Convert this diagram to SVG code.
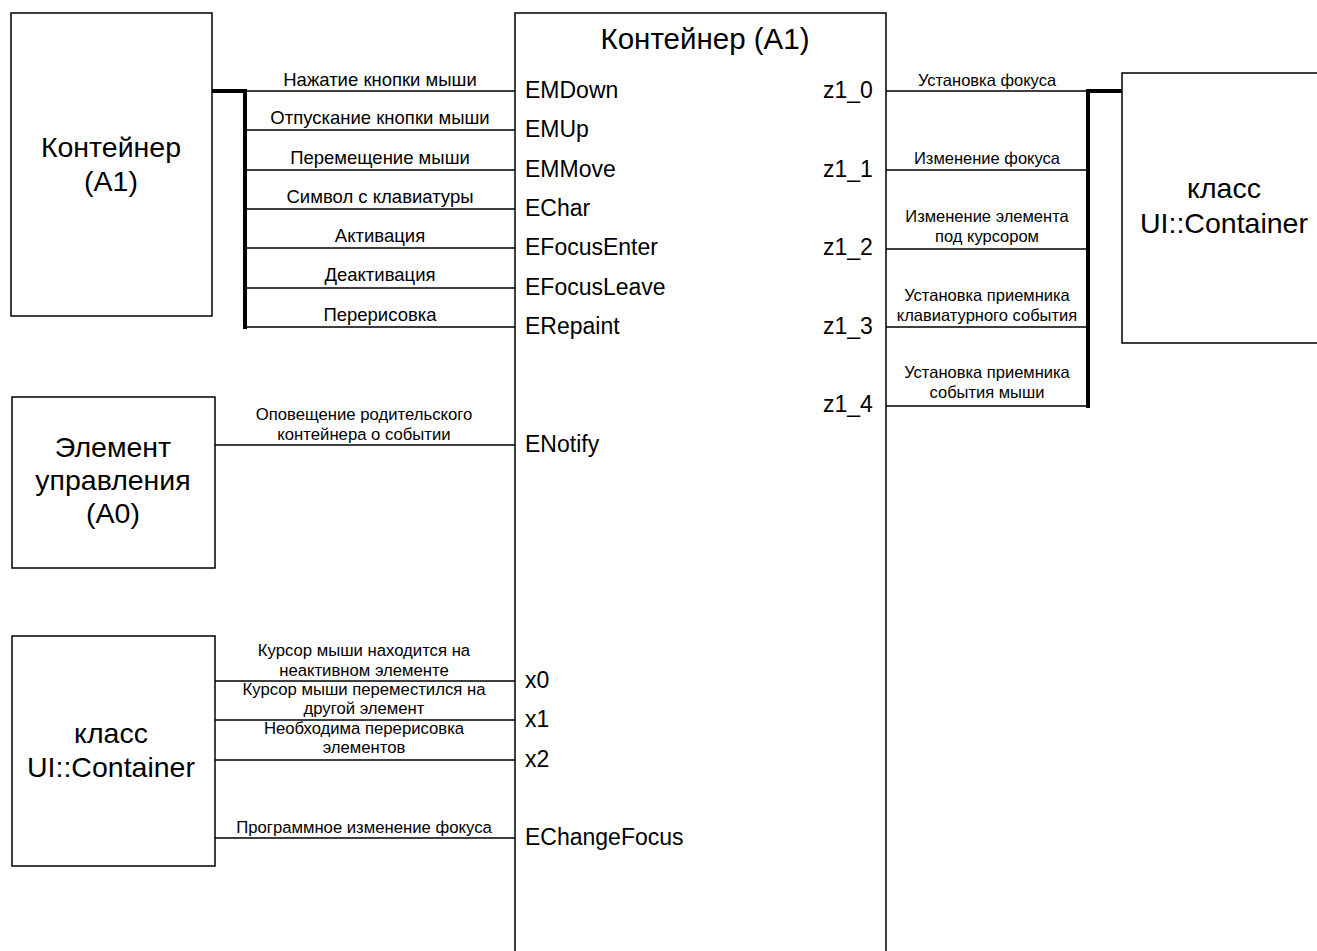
<svg xmlns="http://www.w3.org/2000/svg" width="1317" height="951" viewBox="0 0 1317 951">
<style>
text{font-family:"Liberation Sans",Arial,sans-serif;fill:#000}
.box{fill:#fff;stroke:#000;stroke-width:1.5}
.ln{fill:none;stroke:#000;stroke-width:1.5}
.bus{fill:none;stroke:#000;stroke-width:4;stroke-linecap:square}
.node{font-size:28.5px;text-anchor:middle}
.title{font-size:29.5px;text-anchor:middle}
.port{font-size:23px}
.lblL{font-size:18.5px;text-anchor:middle}
.lblR{font-size:16.5px;text-anchor:middle}
.lblB{font-size:16.7px;text-anchor:middle}
</style>
<rect width="1317" height="951" fill="#fff"/>

<g id="connectors">
  <path class="ln" d="M245,91H515M245,130H515M245,170H515M245,209H515M245,248H515M245,288H515M245,327H515"/>
  <path class="bus" d="M212,91H245V327"/>
  <path class="ln" d="M215,445H515"/>
  <path class="ln" d="M215,681H515M215,720H515M215,760H515M215,838H515"/>
  <path class="ln" d="M886,91H1088M886,170H1088M886,249H1088M886,327H1088M886,406H1088"/>
  <path class="bus" d="M1088,406V91H1122"/>
  <g id="connector-labels">
    <text class="lblL" x="380" y="86">Нажатие кнопки мыши</text>
    <text class="lblL" x="380" y="124">Отпускание кнопки мыши</text>
    <text class="lblL" x="380" y="164">Перемещение мыши</text>
    <text class="lblL" x="380" y="203">Символ с клавиатуры</text>
    <text class="lblL" x="380" y="242">Активация</text>
    <text class="lblL" x="380" y="281">Деактивация</text>
    <text class="lblL" x="380" y="321">Перерисовка</text>
    <text class="lblB" x="364" y="420">Оповещение родительского</text>
    <text class="lblB" x="364" y="440">контейнера о событии</text>
    <text class="lblB" x="364" y="656">Курсор мыши находится на</text>
    <text class="lblB" x="364" y="676">неактивном элементе</text>
    <text class="lblB" x="364" y="695">Курсор мыши переместился на</text>
    <text class="lblB" x="364" y="714">другой элемент</text>
    <text class="lblB" x="364" y="734">Необходима перерисовка</text>
    <text class="lblB" x="364" y="753">элементов</text>
    <text class="lblB" x="364" y="833">Программное изменение фокуса</text>
    <text class="lblR" x="987" y="86">Установка фокуса</text>
    <text class="lblR" x="987" y="164">Изменение фокуса</text>
    <text class="lblR" x="987" y="222">Изменение элемента</text>
    <text class="lblR" x="987" y="242">под курсором</text>
    <text class="lblR" x="987" y="301">Установка приемника</text>
    <text class="lblR" x="987" y="321">клавиатурного события</text>
    <text class="lblR" x="987" y="378">Установка приемника</text>
    <text class="lblR" x="987" y="398">события мыши</text>
  </g>
</g>

<g id="node-container-left">
  <rect class="box" x="11" y="13" width="201" height="303"/>
  <text class="node" x="111" y="157">Контейнер</text>
  <text class="node" x="111" y="191">(A1)</text>
</g>

<g id="node-control">
  <rect class="box" x="12" y="397" width="203" height="171"/>
  <text class="node" x="113" y="457">Элемент</text>
  <text class="node" x="113" y="490">управления</text>
  <text class="node" x="113" y="523">(A0)</text>
</g>

<g id="node-ui-left">
  <rect class="box" x="12" y="636" width="203" height="230"/>
  <text class="node" x="111" y="743">класс</text>
  <text class="node" x="111" y="777">UI::Container</text>
</g>

<g id="node-main">
  <path class="box" d="M515,960V13H886V960"/>
  <text class="title" x="705" y="49">Контейнер (A1)</text>
  <text class="port" x="525" y="98">EMDown</text>
  <text class="port" x="525" y="137">EMUp</text>
  <text class="port" x="525" y="177">EMMove</text>
  <text class="port" x="525" y="216">EChar</text>
  <text class="port" x="525" y="255">EFocusEnter</text>
  <text class="port" x="525" y="295">EFocusLeave</text>
  <text class="port" x="525" y="334">ERepaint</text>
  <text class="port" x="525" y="452">ENotify</text>
  <text class="port" x="525" y="688">x0</text>
  <text class="port" x="525" y="727">x1</text>
  <text class="port" x="525" y="767">x2</text>
  <text class="port" x="525" y="845">EChangeFocus</text>
  <text class="port" x="823" y="98">z1_0</text>
  <text class="port" x="823" y="177">z1_1</text>
  <text class="port" x="823" y="255">z1_2</text>
  <text class="port" x="823" y="334">z1_3</text>
  <text class="port" x="823" y="412">z1_4</text>
</g>

<g id="node-ui-right">
  <path class="box" d="M1330,73H1122V343H1330"/>
  <text class="node" x="1224" y="198">класс</text>
  <text class="node" x="1224" y="233">UI::Container</text>
</g>
</svg>
